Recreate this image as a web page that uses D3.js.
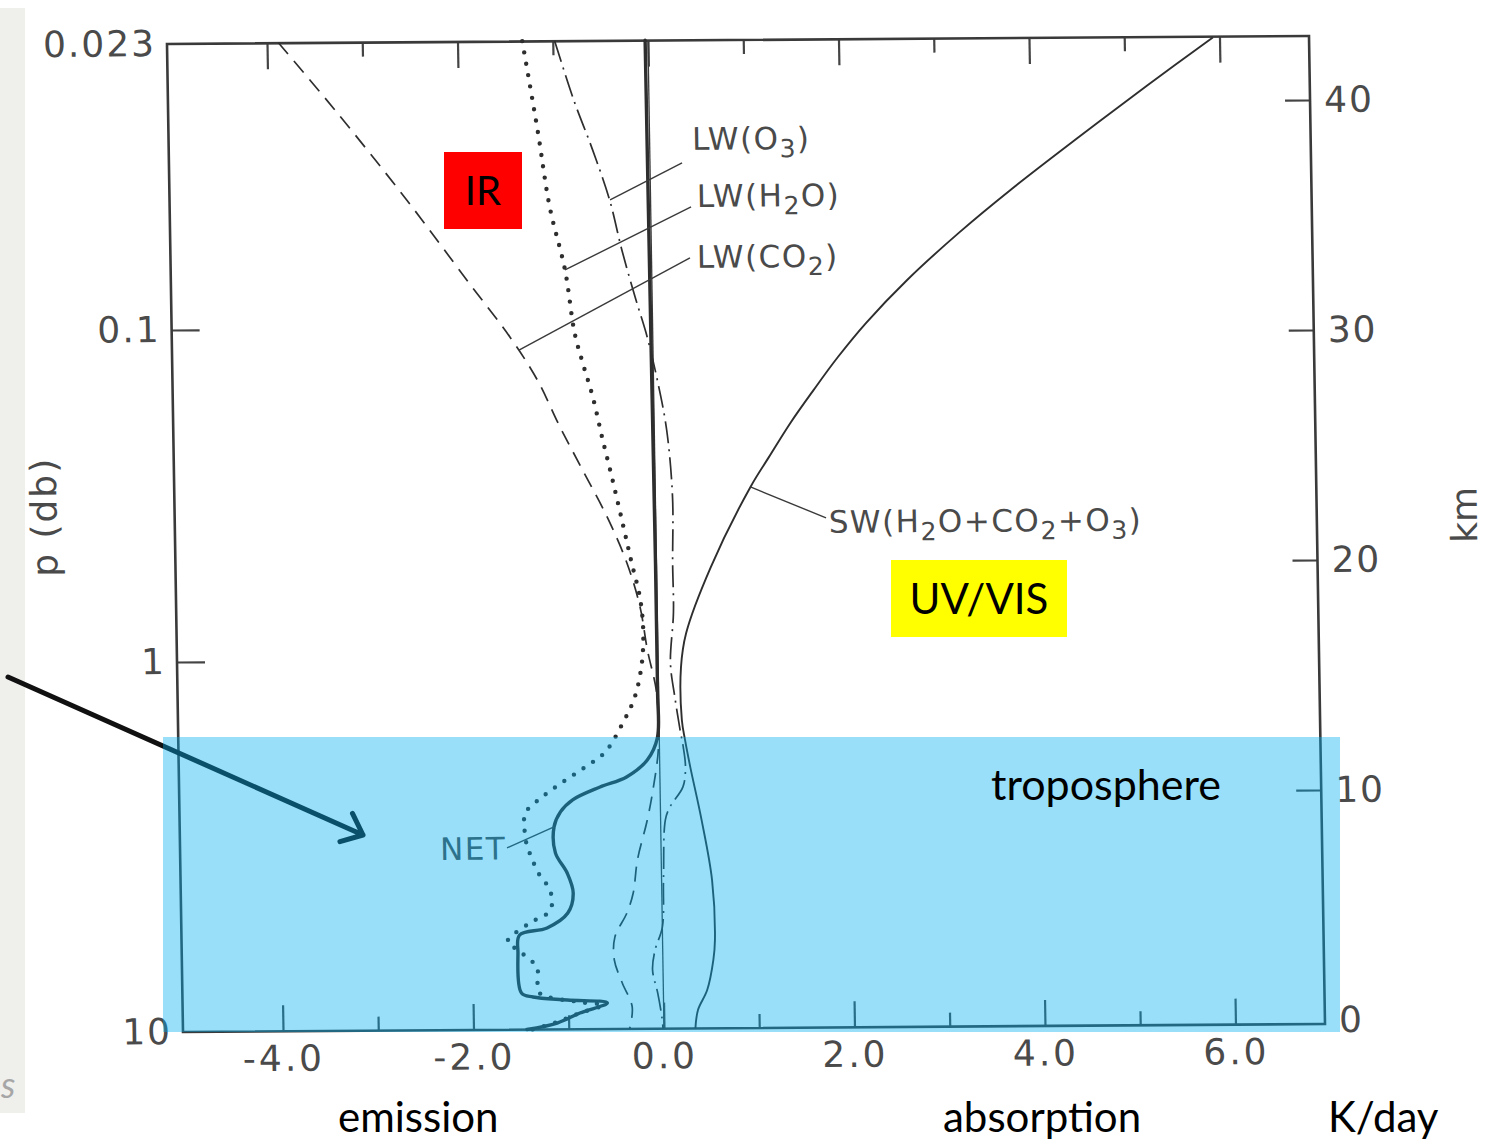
<!DOCTYPE html>
<html lang="en">
<head>
<meta charset="utf-8">
<title>Radiative heating rates</title>
<script src="https://d3js.org/d3.v7.min.js"></script>
<style>
  body { margin: 0; background: #fff; }
  svg { display: block; }
  .scan text { font-family: "DejaVu Sans", sans-serif; fill: #4a4a4a; }
  .slide text { font-family: Lato, "Open Sans", sans-serif; fill: #000; }
</style>
</head>
<body>
<svg id="chart" width="1487" height="1144"></svg>
<script>
// axis ticks
const xMajor = [-4, -2, 0, 2, 4, 6];
const xMinor = [-3, -1, 1, 3, 5];
const pTicks = [0.023, 0.1, 1, 10];
const kmTicks = [0, 10, 20, 30, 40];

// heating rate profiles, [K/day, km]
const lwCO2 = [[-3.88, 42.8], [-3.30, 39.87], [-2.56, 35.93], [-1.92, 32.30], [-1.50, 29.94], [-1.22, 28.07],
  [-0.99, 26.02], [-0.76, 24.14], [-0.51, 22.09], [-0.31, 20.08], [-0.18, 18.17], [-0.11, 16.30], [-0.02, 14.42],
  [-0.01, 12.07], [-0.07, 10.33], [-0.14, 8.90], [-0.25, 7.17], [-0.30, 5.73], [-0.37, 4.86], [-0.50, 3.82],
  [-0.51, 2.83], [-0.43, 1.82], [-0.33, 0.78], [-0.36, -0.17]];
const lwH2O = [[-1.32, 42.8], [-1.17, 38.80], [-1.06, 35.58], [-0.91, 32.84], [-0.82, 30.10], [-0.74, 28.79],
  [-0.64, 27.31], [-0.55, 25.57], [-0.44, 23.57], [-0.34, 21.65], [-0.26, 20.08], [-0.18, 18.60], [-0.15, 17.17],
  [-0.17, 15.73], [-0.25, 14.25], [-0.38, 13.13], [-0.57, 11.87], [-0.78, 11.23], [-1.02, 10.58], [-1.24, 9.93],
  [-1.42, 9.24], [-1.43, 8.63], [-1.42, 8.07], [-1.38, 7.50], [-1.28, 6.54], [-1.19, 6.02], [-1.15, 5.37],
  [-1.20, 4.89], [-1.39, 4.46], [-1.63, 3.64], [-1.52, 3.29], [-1.42, 2.94], [-1.32, 2.54], [-1.32, 1.98],
  [-1.30, 1.41], [-0.88, 1.01], [-0.64, 0.87], [-0.88, 0.53], [-1.12, 0.15], [-1.38, -0.17]];
const lwO3 = [[-0.98, 42.8], [-0.79, 40.23], [-0.60, 38.05], [-0.43, 35.87], [-0.31, 33.69], [-0.17, 31.51],
  [-0.07, 30.08], [0.04, 28.03], [0.13, 25.85], [0.18, 22.94], [0.17, 20.07], [0.17, 17.90], [0.13, 15.72],
  [0.17, 14.24], [0.22, 12.80], [0.25, 12.07], [0.27, 11.20], [0.24, 10.33], [0.10, 9.46], [0.05, 8.90],
  [0.02, 6.29], [0.00, 4.24], [-0.08, 3.25], [-0.11, 2.38], [-0.06, 1.38], [-0.02, 0.33], [-0.01, -0.17]];
const swAll = [[5.93, 42.75], [5.24, 40.70], [4.51, 38.47], [3.78, 36.18], [3.23, 34.33], [2.68, 32.30],
  [2.24, 30.44], [1.94, 28.97], [1.68, 27.55], [1.43, 26.12], [1.20, 24.65], [1.00, 23.35], [0.57, 19.88],
  [0.30, 17.02], [0.24, 15.54], [0.24, 13.24], [0.27, 12.37], [0.32, 11.20], [0.43, 8.89], [0.53, 6.27],
  [0.55, 3.67], [0.53, 2.80], [0.46, 1.49], [0.36, 0.63], [0.33, -0.17]];
const net = [[-0.03, 42.8], [-0.02, 30], [-0.01, 20], [-0.01, 14.5], [-0.02, 12.47], [-0.13, 11.51],
  [-0.35, 10.78], [-0.63, 10.35], [-0.92, 9.80], [-1.05, 9.28], [-1.12, 8.63], [-1.11, 7.50], [-0.99, 6.62],
  [-0.93, 5.75], [-0.99, 4.88], [-1.21, 4.24], [-1.50, 3.94], [-1.52, 3.16], [-1.49, 1.42], [-1.37, 1.24],
  [-1.01, 1.10], [-0.59, 0.96], [-0.88, 0.53], [-1.12, 0.10], [-1.44, -0.17]];

// curve labels: text ("_" = subscript), text anchor and leader ends, [K/day, km]
const curveLabels = [
  { text: "LW(O_3)", at: [0.445, 38.02], from: [-0.425, 35.87], to: [0.337, 37.46] },
  { text: "LW(H_2O)", at: [0.487, 35.54], from: [-0.91, 32.84], to: [0.424, 35.54] },
  { text: "LW(CO_2)", at: [0.477, 32.89], from: [-1.407, 29.37], to: [0.404, 33.33] },
  { text: "SW(H_2O+CO_2+O_3)", at: [1.816, 21.33], from: [1.0, 23.35], to: [1.788, 21.98] },
  { text: "NET", at: [-2.32, 7.23], from: [-1.12, 8.63], to: [-1.617, 7.73] }
];

const svg = d3.select("#chart");

const x = d3.scaleLinear().domain([-5.05, 6.94]).range([183, 1325]);
const yKm = d3.scaleLinear().domain([0, 40]).range([1028, 108]);
const yP = d3.scaleLog().domain([10, 1, 0.1, 0.023]).range([1032, 662, 330, 44]);
const frameLeft = x.range()[0], frameRight = x.range()[1];
const frameTop = yP(0.023), frameBottom = yP(10);

// paper edge of the scan
svg.append("rect").attr("x", 0).attr("y", 8).attr("width", 25).attr("height", 1105).attr("fill", "#efefec");

// the scanned figure is slightly sheared
const scan = svg.append("g").attr("class", "scan")
  .attr("transform", "matrix(1,-0.007,0.0162,1,-16.72,1.28)");

function styleAxis(g, size, spacing) {
  g.select(".domain").remove();
  g.selectAll(".tick line").attr("stroke", "#444").attr("stroke-width", 2.2);
  g.selectAll("text").attr("font-family", '"DejaVu Sans", sans-serif')
    .attr("font-size", size).attr("fill", "#4a4a4a").attr("letter-spacing", spacing);
}

scan.append("g").attr("transform", `translate(0,${frameBottom})`)
  .call(d3.axisBottom(x).tickValues(xMajor).tickSize(-26).tickPadding(14).tickFormat(d => d.toFixed(1)))
  .call(styleAxis, 36, 3);
scan.append("g").attr("transform", `translate(0,${frameBottom})`)
  .call(d3.axisBottom(x).tickValues(xMinor).tickSize(-14).tickFormat(""))
  .call(styleAxis, 36, 0);
scan.append("g").attr("transform", `translate(0,${frameTop})`)
  .call(d3.axisTop(x).tickValues(xMajor).tickSize(-26).tickFormat(""))
  .call(styleAxis, 36, 0);
scan.append("g").attr("transform", `translate(0,${frameTop})`)
  .call(d3.axisTop(x).tickValues(xMinor).tickSize(-14).tickFormat(""))
  .call(styleAxis, 36, 0);

scan.append("g").attr("transform", `translate(${frameLeft},0)`)
  .call(d3.axisLeft(yP).tickValues([0.1, 1]).tickSize(-28).tickFormat(""))
  .call(styleAxis, 36, 0);
scan.append("g").attr("transform", `translate(${frameLeft},0)`)
  .call(d3.axisLeft(yP).tickValues(pTicks).tickSize(0).tickPadding(11).tickFormat(d => String(d)))
  .call(styleAxis, 36, 2);

scan.append("g").attr("transform", `translate(${frameRight},0)`)
  .call(d3.axisRight(yKm).tickValues(kmTicks.slice(1)).tickSize(-25).tickFormat(""))
  .call(styleAxis, 36, 0);
scan.append("g").attr("transform", `translate(${frameRight},0)`)
  .call(d3.axisRight(yKm).tickValues(kmTicks).tickSize(0).tickPadding(14))
  .call(styleAxis, 36, 2);

scan.append("rect")
  .attr("x", frameLeft).attr("y", frameTop)
  .attr("width", frameRight - frameLeft).attr("height", frameBottom - frameTop)
  .attr("fill", "none").attr("stroke", "#3a3a3a").attr("stroke-width", 2.6);

scan.append("line")
  .attr("x1", x(0)).attr("x2", x(0)).attr("y1", frameTop).attr("y2", frameBottom)
  .attr("stroke", "#3a3a3a").attr("stroke-width", 1.3);

scan.append("text").attr("transform", "translate(65,516) rotate(-90)")
  .attr("text-anchor", "middle").attr("font-size", 36).attr("letter-spacing", 2).text("p (db)");
scan.append("text").attr("transform", "translate(1485,524) rotate(-90)")
  .attr("text-anchor", "middle").attr("font-size", 36).text("km");

// profiles
const line = d3.line().x(d => x(d[0])).y(d => yKm(d[1])).curve(d3.curveCatmullRom.alpha(0.5));
const series = [
  { data: lwCO2, width: 1.7, dash: "15 9", cap: "butt" },
  { data: lwH2O, width: 4.4, dash: "0 11.5", cap: "round" },
  { data: lwO3, width: 1.7, dash: "22 6 2 6", cap: "butt" },
  { data: swAll, width: 1.9, dash: null, cap: "butt" },
  { data: net, width: 3.4, dash: null, cap: "round" }
];
scan.selectAll("path.profile").data(series).join("path")
  .attr("class", "profile")
  .attr("d", d => line(d.data))
  .attr("fill", "none")
  .attr("stroke", "#2e2e2e")
  .attr("stroke-width", d => d.width)
  .attr("stroke-dasharray", d => d.dash)
  .attr("stroke-linecap", d => d.cap);

// labels with leaders
scan.selectAll("line.leader").data(curveLabels).join("line")
  .attr("class", "leader")
  .attr("x1", d => x(d.from[0])).attr("y1", d => yKm(d.from[1]))
  .attr("x2", d => x(d.to[0])).attr("y2", d => yKm(d.to[1]))
  .attr("stroke", "#3a3a3a").attr("stroke-width", 1.4);

curveLabels.forEach(d => {
  const t = scan.append("text")
    .attr("x", x(d.at[0])).attr("y", yKm(d.at[1]))
    .attr("font-size", 31).attr("letter-spacing", 1.5).attr("fill", "#3a3a3a");
  let shift = 0;
  d.text.split(/_(\d)/).forEach((part, i) => {
    const sub = i % 2 === 1;
    const target = sub ? 8 : 0;
    if (!part) return;
    t.append("tspan").attr("dy", target - shift).attr("font-size", sub ? 25 : 31).text(part);
    shift = target;
  });
});

// slide annotations on top of the scan
const slide = svg.append("g").attr("class", "slide");

const arrow = { from: [8, 677], to: [363, 835], head: 24, spread: 40 };
const ang = Math.atan2(arrow.to[1] - arrow.from[1], arrow.to[0] - arrow.from[0]);
const arm = s => {
  const a = ang + Math.PI + s * arrow.spread * Math.PI / 180;
  return [arrow.to[0] + arrow.head * Math.cos(a), arrow.to[1] + arrow.head * Math.sin(a)];
};
const h1 = arm(1), h2 = arm(-1);
slide.append("path")
  .attr("d", `M${arrow.from}L${arrow.to}M${h1}L${arrow.to}L${h2}`)
  .attr("fill", "none").attr("stroke", "#111").attr("stroke-width", 5)
  .attr("stroke-linecap", "round").attr("stroke-linejoin", "round");

slide.append("rect")
  .attr("x", 163).attr("y", 737).attr("width", 1177).attr("height", 295)
  .attr("fill", "rgb(0,176,240)").attr("fill-opacity", 0.4);

slide.append("rect").attr("x", 444).attr("y", 152).attr("width", 78).attr("height", 77).attr("fill", "#ff0000");
slide.append("text").attr("x", 483).attr("y", 205).attr("text-anchor", "middle").attr("font-size", 40).text("IR");

slide.append("rect").attr("x", 891).attr("y", 560).attr("width", 176).attr("height", 77).attr("fill", "#ffff00");
slide.append("text").attr("x", 979).attr("y", 614).attr("text-anchor", "middle").attr("font-size", 42).text("UV/VIS");

slide.append("text").attr("x", 991).attr("y", 800).attr("font-size", 43).text("troposphere");
slide.append("text").attr("x", 338).attr("y", 1132).attr("font-size", 42).text("emission");
slide.append("text").attr("x", 943).attr("y", 1132).attr("font-size", 42).text("absorption");
slide.append("text").attr("x", 1328).attr("y", 1132).attr("font-size", 42).text("K/day");
slide.append("text").attr("x", 1).attr("y", 1098).attr("font-size", 36)
  .attr("font-style", "italic").style("fill", "#a6a6a6").text("s");
</script>
</body>
</html>
